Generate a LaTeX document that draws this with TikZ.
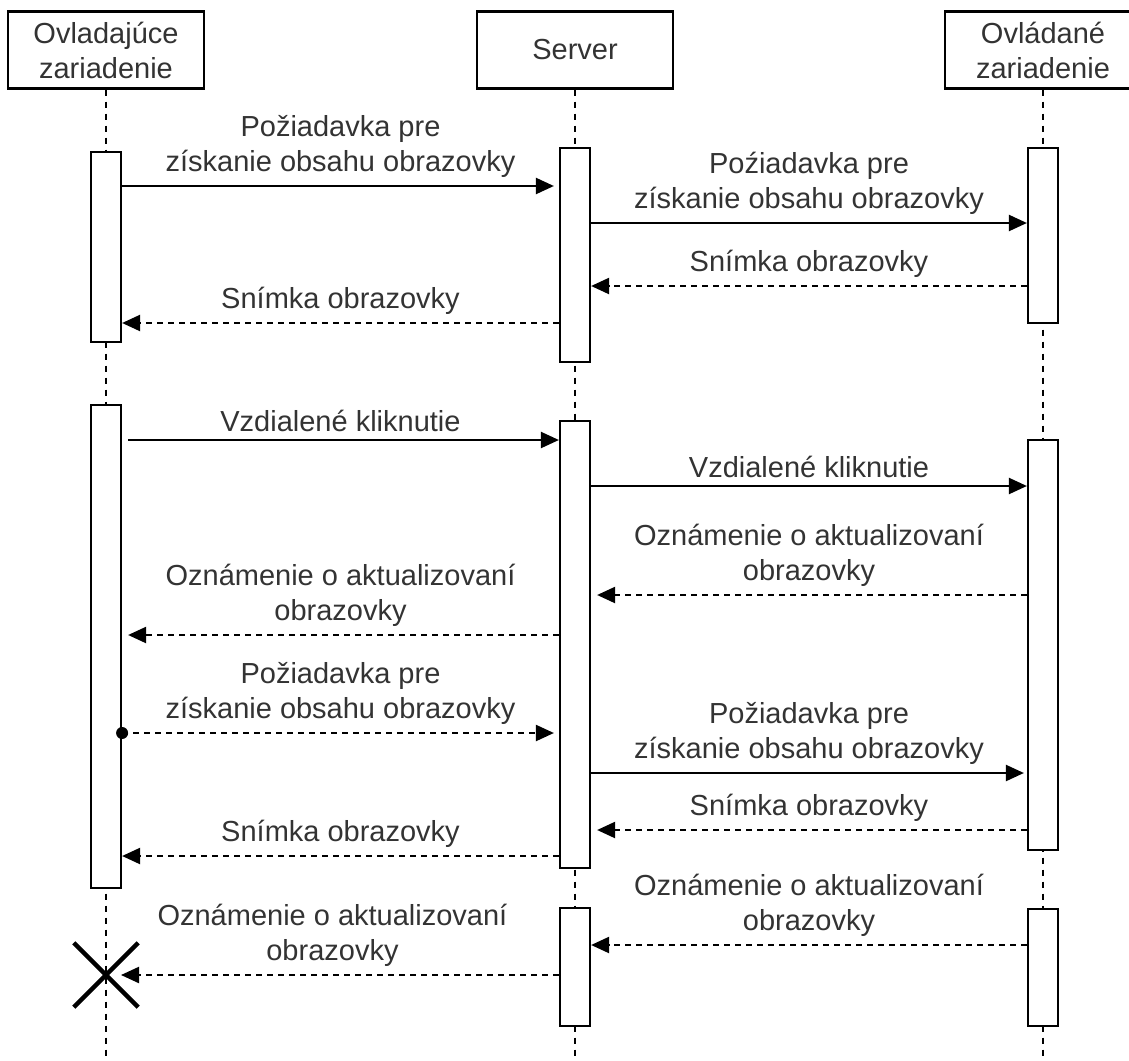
\documentclass[tikz,border=0pt]{standalone}
\usepackage{fontspec}
\setmainfont{Liberation Sans}
\usetikzlibrary{arrows.meta,shapes.misc}

\definecolor{txtgray}{HTML}{333333}

\tikzset{
  head/.style={draw, line width=1.1pt, minimum width=98pt, minimum height=38.5pt, align=center, inner sep=0pt,
    text=txtgray, font=\fontsize{14.5}{17.5}\selectfont},
  life/.style={dash pattern=on 3pt off 3pt, line width=0.9pt},
  act/.style={draw, fill=white, line width=1.1pt, minimum width=15pt, inner sep=0pt},
  call/.style={-{Triangle[length=9pt,width=8pt]}, line width=1.1pt},
  reply/.style={call, dash pattern=on 3pt off 2.5pt},
  lbl/.style={midway, above=3.5pt, text=txtgray, align=center, inner sep=0pt,
    font=\fontsize{14.5}{17.5}\selectfont},
  dot/.style={circle, fill, inner sep=0pt, minimum size=6pt},
  stop/.style={cross out, draw, line width=2.2pt, minimum size=30pt, inner sep=0pt}
}

\begin{document}
\begin{tikzpicture}[x=0.5pt, y=-0.5pt]
\useasboundingbox (0,0) rectangle (1129,1060);
\clip (0,0) rectangle (1129,1060);

% headers
\node[head] (ctrl) at (106,50) {Ovladajúce\\zariadenie};
\node[head] (srv) at (575,50) {Server};
\node[head] (dev) at (1043,50) {Ovládané\\zariadenie};

% lifelines
\draw[life] (ctrl.south) -- (ctrl.south |- 0,1062);
\draw[life] (srv.south) -- (srv.south |- 0,1062);
\draw[life] (dev.south) -- (dev.south |- 0,1062);

% activations
\node[act, minimum height=95pt] (la1) at (106,247) {};
\node[act, minimum height=241.5pt] (la2) at (106,646.5) {};
\node[act, minimum height=107pt] (sa1) at (575,255) {};
\node[act, minimum height=223.5pt] (sa2) at (575,644.5) {};
\node[act, minimum height=59pt] (sa3) at (575,967) {};
\node[act, minimum height=87.5pt] (ra1) at (1043,235.5) {};
\node[act, minimum height=205pt] (ra2) at (1043,645) {};
\node[act, minimum height=58.5pt] (ra3) at (1043,967.5) {};

% first round
\draw[call, shorten >=2.5pt] (la1.east |- 0,186) -- (sa1.west |- 0,186)
  node[lbl] {Požiadavka pre\\získanie obsahu obrazovky};
\draw[call] (sa1.east |- 0,223) -- (ra1.west |- 0,223)
  node[lbl] {Poźiadavka pre\\získanie obsahu obrazovky};
\draw[reply] (ra1.west |- 0,286) -- (sa1.east |- 0,286)
  node[lbl] {Snímka obrazovky};
\draw[reply] (sa1.west |- 0,323) -- (la1.east |- 0,323)
  node[lbl] {Snímka obrazovky};

% second round
\draw[call, shorten <=3pt] (la2.east |- 0,440) -- (sa2.west |- 0,440)
  node[lbl] {Vzdialené kliknutie};
\draw[call] (sa2.east |- 0,486) -- (ra2.west |- 0,486)
  node[lbl] {Vzdialené kliknutie};
\draw[reply, shorten >=3pt] (ra2.west |- 0,595) -- (sa2.east |- 0,595)
  node[lbl] {Oznámenie o aktualizovaní\\obrazovky};
\draw[reply, shorten >=3pt] (sa2.west |- 0,635) -- (la2.east |- 0,635)
  node[lbl] {Oznámenie o aktualizovaní\\obrazovky};
\node[dot] (d1) at (la2.east |- 0,733) {};
\draw[reply, shorten >=2.5pt] (d1.center) -- (sa2.west |- 0,733)
  node[lbl] {Požiadavka pre\\získanie obsahu obrazovky};
\draw[call, shorten >=1.5pt] (sa2.east |- 0,773) -- (ra2.west |- 0,773)
  node[lbl] {Požiadavka pre\\získanie obsahu obrazovky};
\draw[reply, shorten >=3pt] (ra2.west |- 0,830) -- (sa2.east |- 0,830)
  node[lbl] {Snímka obrazovky};
\draw[reply] (sa2.west |- 0,856) -- (la2.east |- 0,856)
  node[lbl] {Snímka obrazovky};

% end
\node[stop] (xend) at (106,975) {};
\draw[reply] (ra3.west |- 0,945) -- (sa3.east |- 0,945)
  node[lbl] {Oznámenie o aktualizovaní\\obrazovky};
\draw[reply, shorten >=7.5pt] (sa3.west |- xend.center) -- (xend.center)
  node[lbl] {Oznámenie o aktualizovaní\\obrazovky};
\end{tikzpicture}
\end{document}
